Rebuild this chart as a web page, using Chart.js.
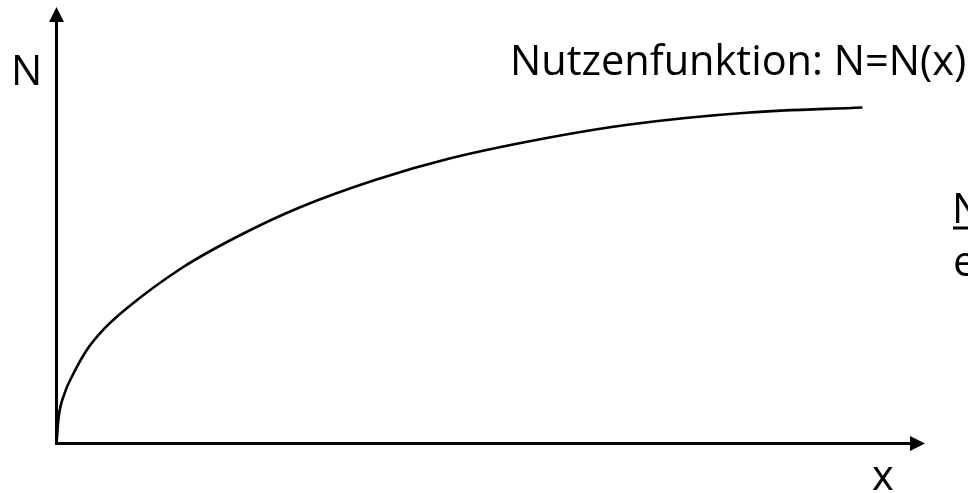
<!DOCTYPE html>
<html>
<head>
<meta charset="utf-8">
<script src="https://cdn.jsdelivr.net/npm/chart.js@4"></script>
<style>
  html, body { margin: 0; padding: 0; background: #fff; }
  #wrap { width: 968px; height: 493px; position: relative; }
</style>
</head>
<body>
<div id="wrap"><canvas id="myChart"></canvas></div>
<script>
// Nutzenfunktion (x 0..100, N 0..100)
const utilityX = [0, 0.23, 0.92, 1.84, 3.45, 5.53, 8.06, 14.51, 21.07, 27.98, 36.85, 45.25, 56.76, 65.98, 79.79, 92.80];
const utilityY = [0, 5.73, 11.45, 15.58, 21.31, 26.35, 30.93, 40.32, 47.65, 54.07, 60.48, 65.29, 70.10, 73.08, 75.83, 76.98];

const axisLabelX = 'x';
const axisLabelY = 'N';
const curveLabel = 'Nutzenfunktion: N=N(x)';
const sideLines = ['N', 'e'];

const FONT = '"Open Sans", sans-serif';

// Achsen mit Pfeilen + Beschriftungen
const axesPlugin = {
    id: 'axesArrows',
    afterDatasetsDraw(chart) {
        const { ctx, scales: { x, y }, chartArea } = chart;
        const x0 = x.getPixelForValue(0);
        const y0 = y.getPixelForValue(0);
        const xEnd = chartArea.right;
        const yEnd = chartArea.top;
        ctx.save();
        ctx.strokeStyle = '#000';
        ctx.fillStyle = '#000';
        ctx.lineWidth = 3;
        ctx.beginPath();
        ctx.moveTo(x0 - 1.5, y0);
        ctx.lineTo(xEnd - 10, y0);
        ctx.moveTo(x0, y0 + 1.5);
        ctx.lineTo(x0, yEnd + 10);
        ctx.stroke();
        // Pfeilspitzen
        ctx.beginPath();
        ctx.moveTo(xEnd, y0);
        ctx.lineTo(xEnd - 15, y0 - 7.5);
        ctx.lineTo(xEnd - 15, y0 + 7.5);
        ctx.closePath();
        ctx.fill();
        ctx.beginPath();
        ctx.moveTo(x0, yEnd);
        ctx.lineTo(x0 - 7.5, yEnd + 15);
        ctx.lineTo(x0 + 7.5, yEnd + 15);
        ctx.closePath();
        ctx.fill();

        ctx.font = '41.5px ' + FONT;
        ctx.textBaseline = 'alphabetic';
        ctx.textAlign = 'left';
        ctx.fillText(axisLabelY, 11, 85);
        ctx.fillText(axisLabelX, 872, 490);
        ctx.fillText(curveLabel, 510, 75);
        ctx.fillText(sideLines[0], 952, 223);
        ctx.fillText(sideLines[1], 953, 276);
        // Unterstreichung
        ctx.lineWidth = 3;
        ctx.beginPath();
        ctx.moveTo(953, 228);
        ctx.lineTo(968, 228);
        ctx.stroke();
        ctx.restore();
    }
};

new Chart(document.getElementById('myChart'), {
    type: 'line',
    data: {
        datasets: [{
            label: curveLabel,
            data: utilityX.map((v, i) => ({ x: v, y: utilityY[i] })),
            borderColor: '#000',
            borderWidth: 2.6,
            pointRadius: 0,
            fill: false,
            cubicInterpolationMode: 'monotone',
            clip: false
        }]
    },
    options: {
        responsive: true,
        maintainAspectRatio: false,
        animation: false,
        layout: {
            padding: { left: 56.5, right: 43, top: 7, bottom: 49.5 }
        },
        scales: {
            x: { type: 'linear', min: 0, max: 100, display: false },
            y: { min: 0, max: 100, display: false }
        },
        plugins: {
            legend: { display: false },
            tooltip: { enabled: false }
        }
    },
    plugins: [axesPlugin]
});
</script>
</body>
</html>
